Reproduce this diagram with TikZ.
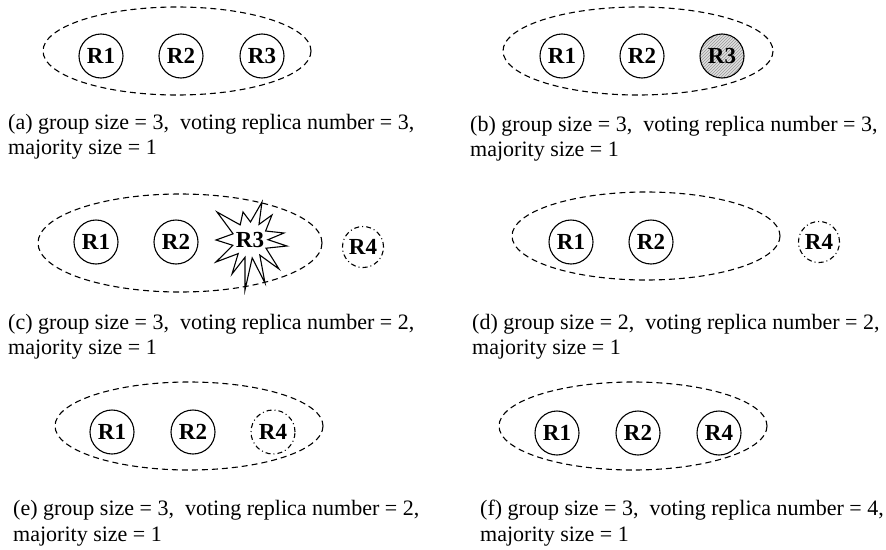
\documentclass[tikz,border=0pt]{standalone}
\usepackage{fontspec}
\setmainfont{Liberation Serif}
\usetikzlibrary{patterns}
\begin{document}
\begin{tikzpicture}[x=1pt,y=-1pt,
  grp/.style={draw,line width=1.1pt,dash pattern=on 6pt off 4pt},
  rep/.style={circle,draw,line width=1.1pt,minimum size=44pt,inner sep=0pt,font=\fontsize{23}{23}\selectfont\bfseries},
  newrep/.style={rep,minimum size=41pt,dash pattern=on 5pt off 3pt on 1pt off 3pt},
  failed/.style={rep,pattern=north east lines,pattern color=gray!80,preaction={fill=gray!25}},
  captxt/.style={anchor=base west,inner sep=0pt,font=\fontsize{22}{26}\selectfont}]
\useasboundingbox (0,0) rectangle (886,549);
% (a)
\draw[grp] (177,51) ellipse [x radius=134, y radius=44];
\node[rep] (a1) at (101,56) {R1};
\node[rep] (a2) at (181,56) {R2};
\node[rep] (a3) at (262,56) {R3};
\node[captxt] (capa1) at (8,129) {(a) group size = 3,\ \ voting replica number = 3,};
\node[captxt] (capa2) at (8,154) {majority size = 1};
% (b)
\draw[grp] (638,51) ellipse [x radius=135, y radius=44];
\node[rep] (b1) at (562,56) {R1};
\node[rep] (b2) at (642,56) {R2};
\node[failed] (b3) at (722,56) {R3};
\node[captxt] (capb1) at (470,131) {(b) group size = 3,\ \ voting replica number = 3,};
\node[captxt] (capb2) at (470,156) {majority size = 1};
% (c)
\draw[grp] (180,243) ellipse [x radius=142, y radius=49];
\node[rep] (c1) at (96,242) {R1};
\node[rep] (c2) at (176,242) {R2};
\begin{scope}[shift={(250,240)}]
\draw[line width=1.1pt,fill=white,line join=miter]
  (12,-38) -- (9,-15.6) -- (22,-25) -- (15.6,-9) -- (34,-7) -- (18,-0.3)
  -- (37,6) -- (16,8.2) -- (29,29) -- (9.8,15.1) -- (15,43) -- (2.2,17.9)
  -- (-5,50) -- (-5,17.3) -- (-18,34) -- (-11.8,13.6) -- (-34,22) -- (-17.2,5.3)
  -- (-34,0) -- (-16.9,-6.2) -- (-33,-28) -- (-9.8,-15.1) -- (-7,-28) -- (0.5,-18) -- cycle;
\end{scope}
\node[inner sep=0pt,font=\fontsize{23}{23}\selectfont\bfseries] (c3) at (250,240) {R3};
\node[newrep] (c4) at (363,247) {R4};
\node[captxt] (capc1) at (8,329) {(c) group size = 3,\ \ voting replica number = 2,};
\node[captxt] (capc2) at (8,354) {majority size = 1};
% (d)
\draw[grp] (646,236) ellipse [x radius=134, y radius=44];
\node[rep] (d1) at (571,242) {R1};
\node[rep] (d2) at (651,242) {R2};
\node[newrep] (d4) at (819,242) {R4};
\node[captxt] (capd1) at (472,329) {(d) group size = 2,\ \ voting replica number = 2,};
\node[captxt] (capd2) at (472,354) {majority size = 1};
% (e)
\draw[grp] (189,426) ellipse [x radius=134, y radius=44];
\node[rep] (e1) at (112,432) {R1};
\node[rep] (e2) at (193,432) {R2};
\node[newrep,minimum size=44pt] (e4) at (273,432) {R4};
\node[captxt] (cape1) at (13,515) {(e) group size = 3,\ \ voting replica number = 2,};
\node[captxt] (cape2) at (13,541) {majority size = 1};
% (f)
\draw[grp] (633,426) ellipse [x radius=134, y radius=44];
\node[rep] (f1) at (557,433) {R1};
\node[rep] (f2) at (638,433) {R2};
\node[rep] (f4) at (719,433) {R4};
\node[captxt] (capf1) at (480,515) {(f) group size = 3,\ \ voting replica number = 4,};
\node[captxt] (capf2) at (480,541) {majority size = 1};
\end{tikzpicture}
\end{document}
